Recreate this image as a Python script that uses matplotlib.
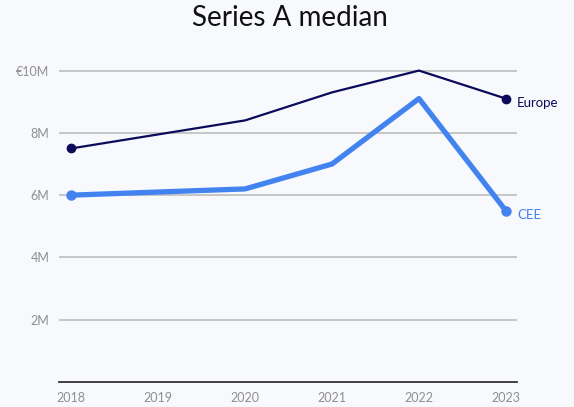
import matplotlib.pyplot as plt
from matplotlib.ticker import FuncFormatter

years = [2018, 2019, 2020, 2021, 2022, 2023]
europe = [7.5, 7.95, 8.4, 9.3, 10.0, 9.1]
cee = [6.0, 6.1, 6.2, 7.0, 9.1, 5.5]
yticks = [2, 4, 6, 8, 10]

plt.rcParams['font.family'] = ['Lato', 'DejaVu Sans']

bg = '#f7f9fd'
navy = '#0b0b5a'
blue = '#4283f0'

fig = plt.figure(figsize=(5.74, 4.07), dpi=100, facecolor=bg)
ax = fig.add_axes([0.103, 0.0614, 0.798, 0.792], facecolor=bg)

for y in yticks:
    ax.axhline(y, color='#bdbdbd', linewidth=1.2, zorder=1)

ax.plot(years, europe, color=navy, linewidth=1.6, zorder=3)
ax.plot([years[0], years[-1]], [europe[0], europe[-1]], 'o', color=navy,
        markersize=6, zorder=4, clip_on=False)
ax.plot(years, cee, color=blue, linewidth=3.8, solid_capstyle='round', zorder=3)
ax.plot([years[0], years[-1]], [cee[0], cee[-1]], 'o', color=blue,
        markersize=6.5, zorder=4, clip_on=False)

ax.annotate('Europe', (years[-1], europe[-1]), xytext=(8, -3),
            textcoords='offset points', color=navy, fontsize=9.5, va='center')
ax.annotate('CEE', (years[-1], cee[-1]), xytext=(8, -3),
            textcoords='offset points', color=blue, fontsize=9.5, va='center')

ax.set_xlim(2017.86, 2023.13)
ax.set_ylim(0, 10.35)
ax.set_xticks(years)
ax.set_yticks(yticks)
ax.yaxis.set_major_formatter(FuncFormatter(
    lambda v, p: '€10M' if v == 10 else f'{int(v)}M'))
ax.tick_params(length=0, colors='#8f8f8f', labelsize=9)
ax.tick_params(axis='x', pad=7)
ax.tick_params(axis='y', pad=7)

for s in ['top', 'right', 'left']:
    ax.spines[s].set_visible(False)
ax.spines['bottom'].set_color('#222222')
ax.spines['bottom'].set_linewidth(1.2)

fig.text(0.505, 0.955, 'Series A median', ha='center', va='center',
         fontsize=20, color='#111111')

fig.savefig('out.png', dpi=100, facecolor=bg)
